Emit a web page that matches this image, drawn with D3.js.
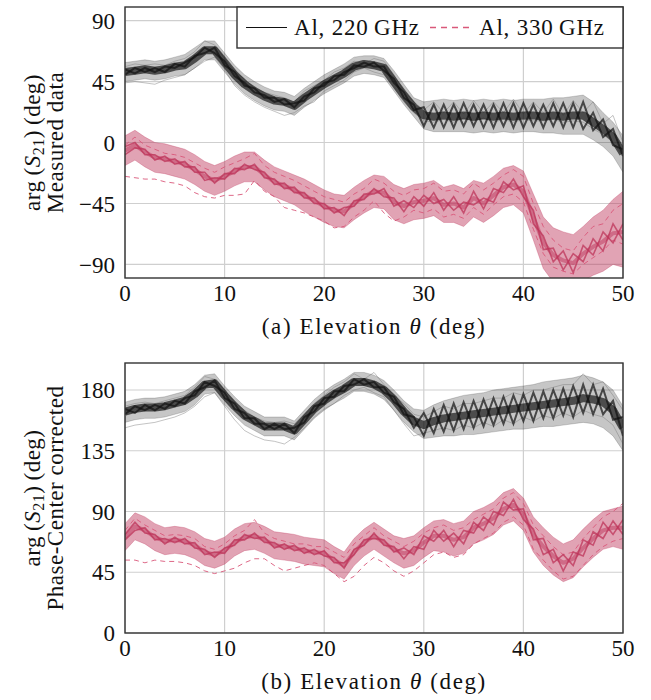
<!DOCTYPE html>
<html>
<head>
<meta charset="utf-8">
<script src="https://cdn.jsdelivr.net/npm/d3@7"></script>
<style>
  html, body { margin: 0; padding: 0; background: #fff; }
  svg { display: block; }
</style>
</head>
<body>
<svg id="chart" width="651" height="700"></svg>
<script>
// ---------------- DATA ----------------
const elevation = d3.range(0, 51, 1); // 0..50 deg, 1 deg steps
const xTicks = [0, 10, 20, 30, 40, 50];
const yTicksA = [-90, -45, 0, 45, 90];
const yTicksB = [0, 45, 90, 135, 180];
const seriesNames = ["Al, 220\u2009GHz", "Al, 330\u2009GHz"];

// (a) Measured data, 220 GHz bundle
const a220Mid = [52,53,54,53,54,56,57,62,68,68,59,50,43,38,34,31,30,27,33,38,43,47,51,56,58,57,55,45,35,26,20,19,20,19,20,19,20,19,20,19,20,20,19,20,19,20,20,15,10,4,-8];
const a220Hi  = [59,60,61,60,61,63,65,70,75,75,66,57,50,45,41,38,37,34,40,45,50,54,58,63,64,64,62,53,43,33,30,31,32,31,32,31,32,31,32,31,32,32,32,33,33,34,35,30,22,15,5];
const a220Lo  = [45,46,47,46,47,49,50,55,61,61,52,43,36,31,27,24,23,20,26,31,36,40,44,49,51,50,48,38,28,19,10,8,8,8,8,7,8,7,8,7,8,8,7,7,6,6,6,2,-3,-10,-22];
const a220TrA = [54,51,55,52,56,55,59,63,70,66,60,49,44,37,35,30,32,26,34,37,44,46,52,55,59,56,56,44,37,24,26,11,28,11,29,12,28,11,29,11,29,12,28,12,29,11,30,9,17,-2,-5];
const a220TrB = [50,55,52,55,52,58,56,64,66,70,57,52,42,40,33,33,28,29,31,40,42,49,50,57,56,59,53,47,33,28,12,28,11,28,12,28,11,28,12,29,11,28,11,29,11,29,10,22,4,10,-10];
const a220OutLo = [44,45,44,43,46,48,50,55,60,63,54,42,35,30,26,23,20,22,27,30,38,42,46,52,55,52,50,40,30,22,16,15,17,15,18,16,18,15,17,15,17,16,16,17,15,16,15,10,6,0,-10];
const a220OutHi = [56,58,57,58,57,60,62,67,75,72,62,52,47,40,37,35,33,30,38,42,46,52,55,60,58,62,60,50,38,30,24,30,22,30,21,31,22,30,22,32,21,30,22,32,20,31,22,30,14,20,0];

// (a) Measured data, 330 GHz bundle
const a330Mid = [-6,-2,-7,-11,-12,-14,-16,-20,-25,-28,-25,-21,-18,-18,-24,-29,-32,-35,-39,-43,-47,-50,-51,-45,-40,-36,-37,-44,-47,-44,-43,-41,-46,-45,-48,-41,-45,-39,-33,-31,-36,-55,-74,-83,-87,-89,-82,-77,-73,-67,-66];
const a330Hi  = [5,9,4,0,-1,-3,-5,-9,-14,-17,-14,-10,-7,-7,-13,-18,-21,-24,-27,-31,-35,-38,-39,-33,-28,-24,-25,-31,-34,-31,-30,-28,-33,-31,-34,-28,-30,-25,-19,-17,-21,-38,-55,-63,-66,-68,-62,-55,-50,-42,-36];
const a330Lo  = [-17,-13,-18,-22,-23,-25,-27,-31,-36,-39,-36,-32,-29,-29,-35,-40,-43,-46,-51,-55,-59,-62,-63,-57,-52,-48,-49,-57,-60,-57,-56,-54,-59,-59,-62,-55,-59,-54,-48,-46,-52,-72,-93,-103,-107,-109,-102,-98,-95,-90,-92];
const a330TrA = [-3,0,-9,-9,-14,-12,-18,-18,-28,-26,-27,-19,-20,-16,-26,-27,-34,-33,-41,-41,-49,-48,-54,-43,-42,-34,-40,-41,-51,-40,-47,-37,-50,-40,-52,-36,-49,-34,-37,-27,-40,-50,-79,-78,-94,-82,-88,-71,-80,-60,-72];
const a330TrB = [-9,-4,-5,-13,-10,-16,-14,-22,-22,-30,-23,-23,-16,-20,-22,-31,-30,-37,-37,-45,-45,-52,-48,-47,-38,-38,-34,-47,-43,-48,-39,-45,-42,-50,-44,-46,-41,-44,-29,-35,-32,-60,-69,-88,-80,-96,-76,-83,-66,-74,-60];
const a330OutLo = [-25,-26,-27,-27,-29,-30,-32,-37,-40,-41,-39,-39,-38,-28,-36,-40,-48,-50,-52,-55,-58,-63,-62,-55,-50,-43,-52,-58,-55,-50,-52,-49,-55,-53,-56,-48,-53,-46,-40,-38,-44,-64,-82,-92,-95,-97,-90,-85,-80,-72,-75];
const a330OutHi = [-2,4,-2,-5,-8,-9,-11,-15,-19,-22,-18,-15,-12,-8,-17,-22,-25,-28,-32,-36,-40,-42,-44,-38,-34,-27,-30,-36,-39,-35,-34,-30,-36,-35,-38,-30,-35,-30,-24,-20,-25,-45,-62,-72,-78,-80,-70,-62,-60,-50,-45];

// (b) Phase-center corrected, 220 GHz bundle
const b220Mid = [164,166,167,167,168,170,172,177,184,185,176,168,161,157,153,153,153,150,158,166,172,177,181,186,186,184,180,173,164,157,154,157,159,160,161,162,163,164,165,166,167,168,169,170,171,172,174,173,171,165,152];
const b220Hi  = [171,173,174,174,175,177,179,184,191,192,183,175,168,164,160,160,160,157,165,173,179,184,188,193,193,191,187,180,172,166,165,169,172,174,176,177,178,180,181,182,183,184,186,187,188,189,191,189,186,180,168];
const b220Lo  = [156,158,159,159,160,162,164,169,177,178,169,161,154,150,146,146,146,143,151,159,165,170,174,179,179,177,173,165,156,149,144,145,146,146,147,147,148,149,150,151,151,152,153,153,154,155,156,155,152,146,135];
const b220TrA = [166,163,169,165,170,168,174,176,186,183,178,166,163,155,155,151,155,148,160,164,174,175,183,184,188,182,182,171,166,152,163,148,169,150,171,152,173,154,175,155,177,157,179,159,181,160,184,162,181,158,160];
const b220TrB = [162,168,165,169,166,172,170,179,182,187,174,170,159,159,151,155,151,152,156,168,170,179,179,188,184,186,178,175,162,160,146,166,149,170,151,172,153,174,155,176,157,178,159,180,161,183,163,184,162,172,146];
const b220OutLo = [152,154,155,156,158,160,163,168,175,178,168,158,150,146,143,142,140,145,152,160,166,170,176,180,182,178,175,165,155,146,148,150,152,150,154,152,156,153,158,155,160,157,161,159,163,160,165,162,160,154,140];
const b220OutHi = [168,170,171,170,172,174,176,182,190,188,180,171,165,160,157,156,157,155,162,170,176,182,186,192,188,193,184,176,170,162,160,164,168,166,170,170,172,174,174,178,176,180,180,182,184,184,192,184,186,176,165];

// (b) Phase-center corrected, 330 GHz bundle
const b330Mid = [71,79,76,71,68,69,68,65,60,58,61,67,71,72,69,65,64,63,61,60,59,54,50,60,67,72,67,62,59,61,67,72,72,69,71,78,81,85,92,95,88,73,64,57,52,55,63,70,76,78,78];
const b330Hi  = [81,89,86,81,78,79,78,75,70,68,71,77,81,82,79,75,74,73,71,70,69,64,60,70,77,82,77,72,70,72,78,83,84,81,83,90,93,97,104,107,100,86,78,71,66,69,77,84,90,92,94];
const b330Lo  = [61,69,66,61,58,59,58,55,50,48,51,57,61,62,59,55,54,53,51,50,49,44,40,50,57,62,57,52,48,50,56,61,60,57,59,66,69,73,80,83,76,60,50,43,38,41,49,56,62,64,62];
const b330TrA = [73,82,74,73,66,71,66,67,58,60,59,69,69,74,67,67,62,65,59,62,57,56,48,62,65,74,65,64,55,64,62,76,68,74,66,82,76,90,87,99,84,77,58,62,46,60,57,75,70,83,73];
const b330TrB = [69,76,78,69,70,67,70,63,62,56,63,65,73,70,71,63,66,61,63,58,61,52,52,58,69,70,69,60,63,58,72,68,76,64,76,74,86,80,97,91,92,69,70,52,58,50,69,65,82,73,84];
const b330OutLo = [54,54,52,54,53,53,52,50,46,44,46,48,52,55,55,50,46,48,50,52,50,44,38,42,50,56,52,46,42,46,52,58,60,56,58,66,70,74,82,86,80,62,54,46,40,42,50,58,64,68,70];
const b330OutHi = [76,85,80,76,72,73,72,70,64,62,66,72,76,84,74,70,68,66,66,64,64,60,56,66,72,78,72,68,64,68,74,78,80,76,78,84,88,92,100,104,96,80,72,64,58,60,70,78,86,90,96];

// ---------------- DRAWING ----------------
const FONT = "'Liberation Serif', 'DejaVu Serif', serif";
const svg = d3.select("#chart");
const BLACK = "#111111", RED = "#bd3459", RED_LIGHT = "#d9587a";
const left = 125, right = 623;
const x = d3.scaleLinear().domain([0, 50]).range([left, right]);

const panels = [
  { id: "a", top: 7, bottom: 278, domain: [-100, 100], ticks: yTicksA, line2: "Measured data",
    caption: "(a)",
    black: { mid: a220Mid, hi: a220Hi, lo: a220Lo, trA: a220TrA, trB: a220TrB, outs: [a220OutLo, a220OutHi] },
    red:   { mid: a330Mid, hi: a330Hi, lo: a330Lo, trA: a330TrA, trB: a330TrB, outs: [a330OutLo, a330OutHi] } },
  { id: "b", top: 363, bottom: 633, domain: [0, 200], ticks: yTicksB, line2: "Phase-Center corrected",
    caption: "(b)",
    black: { mid: b220Mid, hi: b220Hi, lo: b220Lo, trA: b220TrA, trB: b220TrB, outs: [b220OutLo, b220OutHi] },
    red:   { mid: b330Mid, hi: b330Hi, lo: b330Lo, trA: b330TrA, trB: b330TrB, outs: [b330OutLo, b330OutHi] } }
];

const defs = svg.append("defs");

function txt(sel) {
  return sel.append("text").attr("font-family", FONT).attr("fill", "#111");
}

panels.forEach(p => {
  const y = d3.scaleLinear().domain(p.domain).range([p.bottom, p.top]);
  const g = svg.append("g");
  defs.append("clipPath").attr("id", "clip-" + p.id)
    .append("rect").attr("x", left).attr("y", p.top).attr("width", right - left).attr("height", p.bottom - p.top);

  // grid
  const grid = g.append("g").attr("stroke", "#cfcfcf").attr("stroke-width", 1.2);
  xTicks.forEach(t => grid.append("line").attr("x1", x(t)).attr("x2", x(t)).attr("y1", p.top).attr("y2", p.bottom));
  p.ticks.forEach(t => grid.append("line").attr("x1", left).attr("x2", right).attr("y1", y(t)).attr("y2", y(t)));

  const plot = g.append("g").attr("clip-path", "url(#clip-" + p.id + ")");
  const line = d3.line().x((d, i) => x(elevation[i])).y(d => y(d));
  const area = d3.area().x((d, i) => x(elevation[i])).y0(d => y(d[0])).y1(d => y(d[1]));

  function bundle(b, color, outColor, dashed, isBlack) {
    const band = b.lo.map((v, i) => [v, b.hi[i]]);
    plot.append("path").attr("d", area(band)).attr("fill", color).attr("fill-opacity", isBlack ? 0.24 : 0.45);
    b.outs.forEach(o => plot.append("path").attr("d", line(o)).attr("fill", "none")
      .attr("stroke", outColor).attr("stroke-width", 1).attr("stroke-opacity", isBlack ? 0.45 : 0.9)
      .attr("stroke-dasharray", dashed ? "5,4" : null));
    [b.lo, b.hi].forEach(s => plot.append("path").attr("d", line(s)).attr("fill", "none")
      .attr("stroke", color).attr("stroke-width", 0.9).attr("stroke-opacity", isBlack ? 0.2 : 0.35));
    [b.trA, b.trB].forEach(s => plot.append("path").attr("d", line(s)).attr("fill", "none")
      .attr("stroke", color).attr("stroke-width", isBlack ? 2 : 1.6).attr("stroke-opacity", isBlack ? 0.7 : 0.75)
      .attr("stroke-linejoin", "miter"));
    plot.append("path").attr("d", line(b.mid)).attr("fill", "none")
      .attr("stroke", color).attr("stroke-width", isBlack ? 8 : 4).attr("stroke-opacity", isBlack ? 0.68 : 0.5)
      .attr("stroke-linejoin", "round");
  }
  bundle(p.black, BLACK, "#7a7a7a", false, true);
  bundle(p.red, RED, RED_LIGHT, true, false);

  // frame
  g.append("rect").attr("x", left).attr("y", p.top).attr("width", right - left).attr("height", p.bottom - p.top)
    .attr("fill", "none").attr("stroke", "#333").attr("stroke-width", 1.4);

  // tick labels
  xTicks.forEach(t => txt(g).attr("x", x(t)).attr("y", p.bottom + 23)
    .attr("text-anchor", "middle").attr("font-size", 23).text(t));
  p.ticks.forEach(t => txt(g).attr("x", 115).attr("y", y(t)).attr("dy", "0.35em")
    .attr("text-anchor", "end").attr("font-size", 23).text(t < 0 ? "\u2212" + Math.abs(t) : t));

  // y label (two lines)
  const cy = (p.top + p.bottom) / 2;
  const l1 = txt(g).attr("transform", `translate(40,${cy}) rotate(-90)`)
    .attr("text-anchor", "middle").attr("font-size", 23).attr("letter-spacing", 0.5);
  l1.append("tspan").text("arg\u2009(");
  l1.append("tspan").attr("font-style", "italic").text("S");
  l1.append("tspan").attr("font-size", 16).attr("dy", 4).text("21");
  l1.append("tspan").attr("dy", -4).text(")\u2009(deg)");
  txt(g).attr("transform", `translate(63,${cy}) rotate(-90)`)
    .attr("text-anchor", "middle").attr("font-size", 23).attr("letter-spacing", 0.5).text(p.line2);

  // caption
  const cap = txt(g).attr("x", (left + right) / 2).attr("y", p.bottom + 56)
    .attr("text-anchor", "middle").attr("font-size", 23).attr("letter-spacing", 1.6);
  cap.append("tspan").text(p.caption + " Elevation ");
  cap.append("tspan").attr("font-style", "italic").text("\u03b8");
  cap.append("tspan").text(" (deg)");
});

// legend
const lg = svg.append("g");
lg.append("rect").attr("x", 237).attr("y", 7).attr("width", right - 237).attr("height", 41)
  .attr("fill", "#fff").attr("stroke", "#333").attr("stroke-width", 1.4);
lg.append("line").attr("x1", 246).attr("x2", 287).attr("y1", 27.5).attr("y2", 27.5)
  .attr("stroke", BLACK).attr("stroke-width", 1.1);
txt(lg).attr("x", 294).attr("y", 35).attr("font-size", 23).attr("letter-spacing", 0.8).text(seriesNames[0]);
lg.append("line").attr("x1", 430).attr("x2", 471).attr("y1", 27.5).attr("y2", 27.5)
  .attr("stroke", RED_LIGHT).attr("stroke-width", 1.3).attr("stroke-dasharray", "6,5");
txt(lg).attr("x", 479).attr("y", 35).attr("font-size", 23).attr("letter-spacing", 0.8).text(seriesNames[1]);
</script>
</body>
</html>
